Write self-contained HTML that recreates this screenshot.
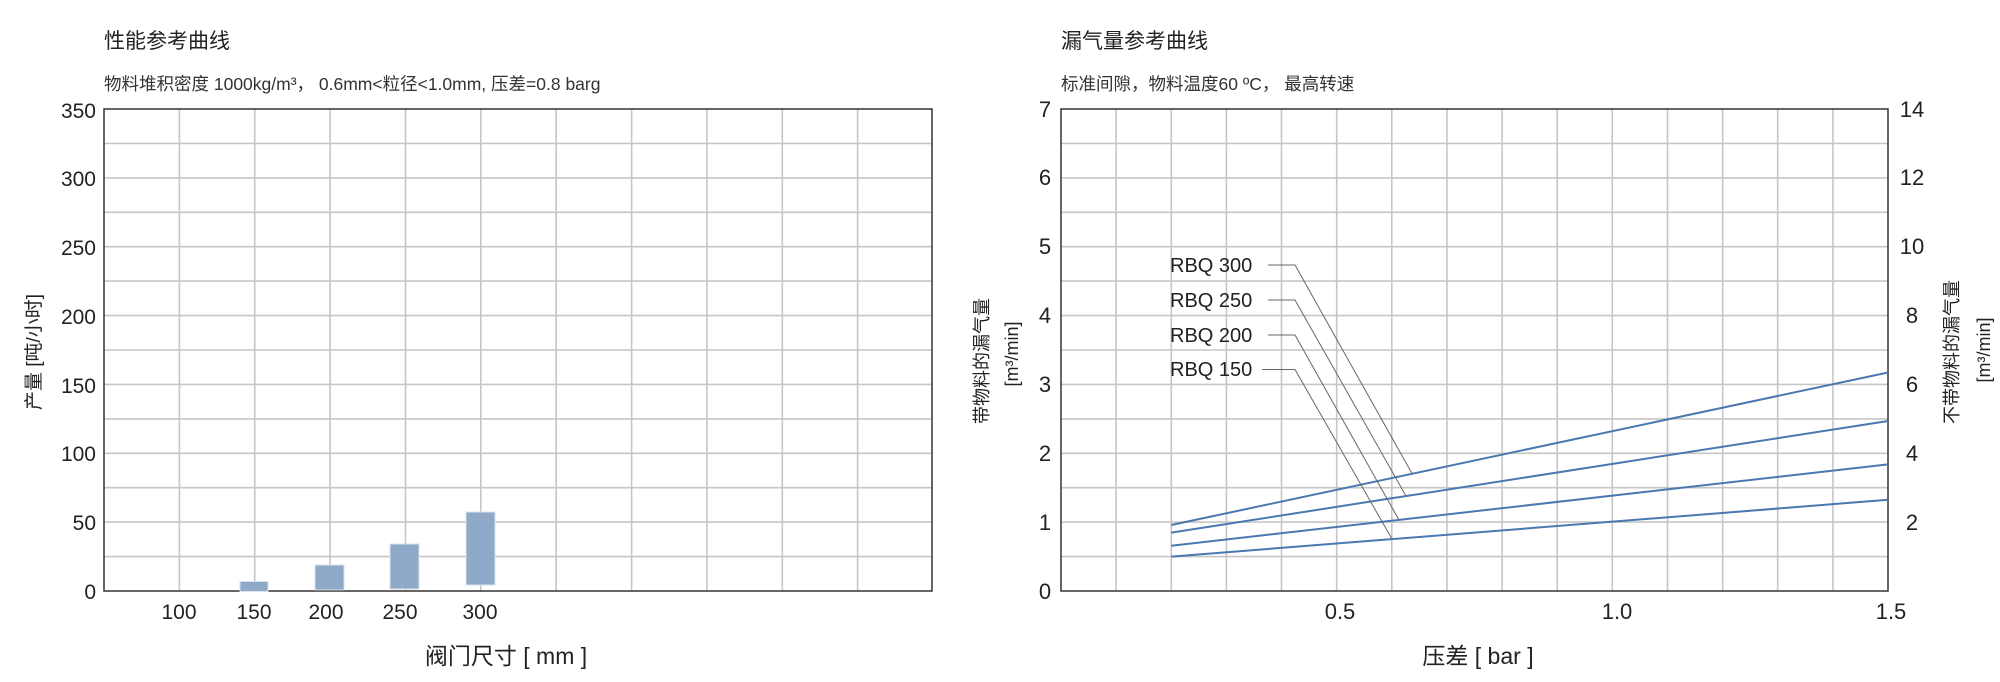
<!DOCTYPE html>
<html><head><meta charset="utf-8"><style>
html,body{margin:0;padding:0;background:#fff;}
svg{display:block;font-family:"Liberation Sans","Noto Sans CJK SC",sans-serif;}
</style></head><body>
<svg width="2000" height="682" viewBox="0 0 2000 682" xmlns="http://www.w3.org/2000/svg">
<rect width="2000" height="682" fill="#fff"/>
<!-- LEFT CHART -->
<text x="104" y="48" font-size="21" fill="#222">性能参考曲线</text>
<text x="104" y="90" font-size="17.5" fill="#333">物料堆积密度 1000kg/m³， 0.6mm&lt;粒径&lt;1.0mm, 压差=0.8 barg</text>
<g stroke="#c6c6c6" stroke-width="1.6">
<line x1="179.4" y1="109" x2="179.4" y2="591"/><line x1="254.7" y1="109" x2="254.7" y2="591"/><line x1="330.1" y1="109" x2="330.1" y2="591"/><line x1="405.5" y1="109" x2="405.5" y2="591"/><line x1="480.8" y1="109" x2="480.8" y2="591"/><line x1="556.2" y1="109" x2="556.2" y2="591"/><line x1="631.6" y1="109" x2="631.6" y2="591"/><line x1="706.9" y1="109" x2="706.9" y2="591"/><line x1="782.3" y1="109" x2="782.3" y2="591"/><line x1="857.6" y1="109" x2="857.6" y2="591"/>
<line x1="104" y1="143.4" x2="932" y2="143.4"/><line x1="104" y1="177.9" x2="932" y2="177.9"/><line x1="104" y1="212.3" x2="932" y2="212.3"/><line x1="104" y1="246.7" x2="932" y2="246.7"/><line x1="104" y1="281.1" x2="932" y2="281.1"/><line x1="104" y1="315.6" x2="932" y2="315.6"/><line x1="104" y1="350" x2="932" y2="350"/><line x1="104" y1="384.4" x2="932" y2="384.4"/><line x1="104" y1="418.9" x2="932" y2="418.9"/><line x1="104" y1="453.3" x2="932" y2="453.3"/><line x1="104" y1="487.7" x2="932" y2="487.7"/><line x1="104" y1="522.1" x2="932" y2="522.1"/><line x1="104" y1="556.6" x2="932" y2="556.6"/>
</g>
<rect x="104" y="109" width="828" height="482" fill="none" stroke="#333" stroke-width="1.5"/>
<g fill="#8fa9c8" stroke="#dbe3ee" stroke-width="1">
<rect x="240" y="581.5" width="28" height="10"/>
<rect x="315" y="565" width="29" height="25"/>
<rect x="390" y="544" width="29" height="45"/>
<rect x="466" y="512" width="29" height="73"/>
</g>
<g font-size="21" fill="#222" text-anchor="end">
<text x="96" y="599">0</text><text x="96" y="530">50</text><text x="96" y="461">100</text><text x="96" y="393">150</text><text x="96" y="324">200</text><text x="96" y="255">250</text><text x="96" y="186">300</text><text x="96" y="118">350</text>
</g>
<g font-size="21" fill="#222" text-anchor="middle">
<text x="179" y="619">100</text><text x="254" y="619">150</text><text x="326" y="619">200</text><text x="400" y="619">250</text><text x="480" y="619">300</text>
</g>
<text x="506" y="664" font-size="23" fill="#222" text-anchor="middle">阀门尺寸 [ mm ]</text>
<text transform="translate(40,352) rotate(-90)" font-size="19" fill="#222" text-anchor="middle">产量 [吨/小时]</text>
<!-- RIGHT CHART -->
<text x="1061" y="48" font-size="21" fill="#222">漏气量参考曲线</text>
<text x="1061" y="90" font-size="17.5" fill="#333">标准间隙，物料温度60 ºC， 最高转速</text>
<g stroke="#c6c6c6" stroke-width="1.6">
<line x1="1116.1" y1="109" x2="1116.1" y2="591"/><line x1="1171.3" y1="109" x2="1171.3" y2="591"/><line x1="1226.4" y1="109" x2="1226.4" y2="591"/><line x1="1281.5" y1="109" x2="1281.5" y2="591"/><line x1="1336.7" y1="109" x2="1336.7" y2="591"/><line x1="1391.8" y1="109" x2="1391.8" y2="591"/><line x1="1446.9" y1="109" x2="1446.9" y2="591"/><line x1="1502.1" y1="109" x2="1502.1" y2="591"/><line x1="1557.2" y1="109" x2="1557.2" y2="591"/><line x1="1612.3" y1="109" x2="1612.3" y2="591"/><line x1="1667.5" y1="109" x2="1667.5" y2="591"/><line x1="1722.6" y1="109" x2="1722.6" y2="591"/><line x1="1777.7" y1="109" x2="1777.7" y2="591"/><line x1="1832.9" y1="109" x2="1832.9" y2="591"/>
<line x1="1061" y1="143.4" x2="1888" y2="143.4"/><line x1="1061" y1="177.9" x2="1888" y2="177.9"/><line x1="1061" y1="212.3" x2="1888" y2="212.3"/><line x1="1061" y1="246.7" x2="1888" y2="246.7"/><line x1="1061" y1="281.1" x2="1888" y2="281.1"/><line x1="1061" y1="315.6" x2="1888" y2="315.6"/><line x1="1061" y1="350" x2="1888" y2="350"/><line x1="1061" y1="384.4" x2="1888" y2="384.4"/><line x1="1061" y1="418.9" x2="1888" y2="418.9"/><line x1="1061" y1="453.3" x2="1888" y2="453.3"/><line x1="1061" y1="487.7" x2="1888" y2="487.7"/><line x1="1061" y1="522.1" x2="1888" y2="522.1"/><line x1="1061" y1="556.6" x2="1888" y2="556.6"/>
</g>
<rect x="1061" y="109" width="827" height="482" fill="none" stroke="#333" stroke-width="1.5"/>
<g stroke="#4a78b0" stroke-width="2" fill="none">
<line x1="1171.3" y1="525" x2="1888" y2="372.5"/>
<line x1="1171.3" y1="532.6" x2="1888" y2="421"/>
<line x1="1171.3" y1="545.7" x2="1888" y2="464.4"/>
<line x1="1171.3" y1="556.6" x2="1888" y2="499.8"/>
</g>
<g stroke="#6e6460" stroke-width="1" fill="none">
<polyline points="1268,265 1295,265 1412,473.5"/>
<polyline points="1268,300 1295,300 1406,496"/>
<polyline points="1268,335 1295,335 1399,520"/>
<polyline points="1262,369.5 1295,369.5 1392,539"/>
</g>
<g font-size="20" fill="#222">
<text x="1170" y="272">RBQ 300</text><text x="1170" y="307">RBQ 250</text><text x="1170" y="342">RBQ 200</text><text x="1170" y="376">RBQ 150</text>
</g>
<g font-size="22" fill="#222" text-anchor="middle">
<text x="1045" y="599">0</text><text x="1045" y="530">1</text><text x="1045" y="461">2</text><text x="1045" y="392">3</text><text x="1045" y="323">4</text><text x="1045" y="254">5</text><text x="1045" y="185">6</text><text x="1045" y="117">7</text>
<text x="1912" y="530">2</text><text x="1912" y="461">4</text><text x="1912" y="392">6</text><text x="1912" y="323">8</text><text x="1912" y="254">10</text><text x="1912" y="185">12</text><text x="1912" y="117">14</text>
<text x="1340" y="619">0.5</text><text x="1617" y="619">1.0</text><text x="1891" y="619">1.5</text>
</g>
<text x="1478" y="664" font-size="23" fill="#222" text-anchor="middle">压差 [ bar ]</text>
<text transform="translate(988,361) rotate(-90)" font-size="18" fill="#222" text-anchor="middle">带物料的漏气量</text>
<text transform="translate(1018,354) rotate(-90)" font-size="18" fill="#222" text-anchor="middle">[m³/min]</text>
<text transform="translate(1958,352) rotate(-90)" font-size="18" fill="#222" text-anchor="middle">不带物料的漏气量</text>
<text transform="translate(1990,350) rotate(-90)" font-size="18" fill="#222" text-anchor="middle">[m³/min]</text>
</svg>
</body></html>
